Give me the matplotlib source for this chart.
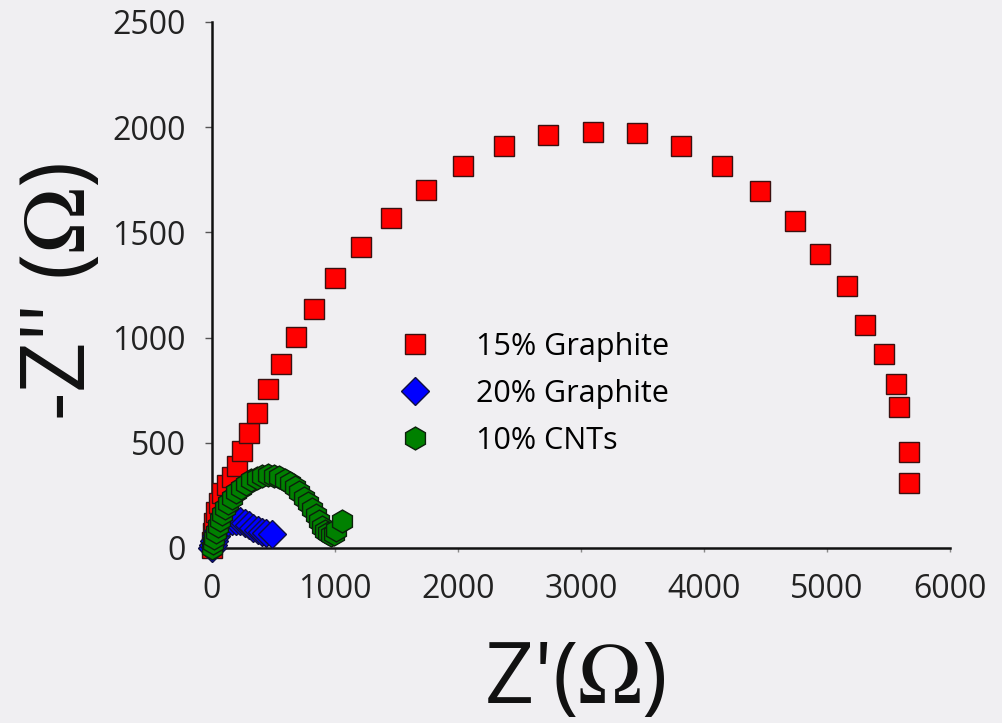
import matplotlib.pyplot as plt

plt.rcParams['font.family'] = ['Open Sans', 'DejaVu Sans']
plt.rcParams['mathtext.fontset'] = 'stix'

# 15% Graphite
red_x = [0, 4, 10, 20, 35, 55, 79, 120, 160, 201, 242, 301, 364, 458, 562, 685, 831, 1002,
         1214, 1459, 1736, 2037, 2372, 2730, 3097, 3456, 3814, 4148, 4458, 4743, 4947,
         5159, 5306, 5460, 5558, 5583, 5664, 5664]
red_y = [0, 30, 70, 120, 170, 215, 260, 299, 339, 390, 461, 545, 640, 754, 874, 1002, 1135,
         1283, 1430, 1568, 1701, 1815, 1910, 1962, 1976, 1971, 1910, 1815, 1696, 1553,
         1397, 1245, 1059, 922, 779, 670, 456, 309]

# 20% Graphite
blue_x = [0, 8, 18, 32, 50, 72, 98, 128, 160, 195, 230, 265, 300, 335, 370, 405, 440, 485]
blue_y = [0, 15, 35, 58, 80, 100, 115, 125, 130, 130, 126, 118, 108, 96, 85, 76, 70, 68]

# 10% CNTs
green_x = [0, 8, 18, 30, 45, 62, 82, 105, 132, 162, 196, 234, 275, 318, 362, 408, 455, 500,
           545, 590, 632, 672, 710, 746, 780, 812, 842, 870, 897, 922, 945, 968, 990, 1012, 1055]
green_y = [0, 22, 48, 75, 103, 132, 160, 188, 214, 240, 264, 287, 306, 322, 334, 342, 345,
           343, 336, 324, 308, 288, 265, 240, 214, 186, 158, 128, 102, 82, 70, 64, 66, 85, 130]

labels = ['15% Graphite', '20% Graphite', '10% CNTs']
xticks = [0, 1000, 2000, 3000, 4000, 5000, 6000]
yticks = [0, 500, 1000, 1500, 2000, 2500]

bg = '#f0eff2'
fig = plt.figure(figsize=(10.02, 7.23), dpi=100, facecolor=bg)
ax = fig.add_axes([212 / 1002, 1 - 548 / 723, 738 / 1002, 526 / 723], facecolor=bg)

ax.plot(red_x, red_y, 's', ms=14.4, mfc='#ff0000', mec='#3a1010', mew=1,
        label=labels[0], clip_on=False, zorder=3)
ax.plot(blue_x, blue_y, 'D', ms=14, mfc='#0000ff', mec='#101040', mew=1,
        label=labels[1], clip_on=False, zorder=4)
ax.plot(green_x, green_y, 'h', ms=16.5, mfc='#008000', mec='#0c200c', mew=1,
        label=labels[2], clip_on=False, zorder=5)

ax.set_xlim(0, 6000)
ax.set_ylim(0, 2500)
ax.set_xticks(xticks)
ax.set_yticks(yticks)
for s in ['top', 'right']:
    ax.spines[s].set_visible(False)
for s in ['left', 'bottom']:
    ax.spines[s].set_linewidth(1.8)
    ax.spines[s].set_color('#111111')
ax.tick_params(axis='y', direction='out', length=5, width=1, color='#555555',
               labelsize=23, pad=14, labelcolor='#222222')
ax.tick_params(axis='x', direction='out', length=3, width=1, color='#888888',
               labelsize=23, pad=15, labelcolor='#222222')

fig.text(575 / 1002, 1 - 703 / 723, "Z'($\\Omega$)", fontsize=62, ha='center',
         va='baseline', color='#111111')
fig.text(62 / 1002, 1 - 292 / 723, "-Z'' ($\\Omega$)", fontsize=64, ha='center',
         va='center', rotation=90, color='#111111')

ax.legend(loc='upper left', bbox_to_anchor=(400 / 1002, 1 - 332 / 723),
          bbox_transform=fig.transFigure, frameon=False, fontsize=22,
          handlelength=1.0, handletextpad=1.5, labelspacing=0.55, borderpad=0,
          borderaxespad=0, numpoints=1)

fig.savefig('out.png', dpi=100, facecolor=bg)
